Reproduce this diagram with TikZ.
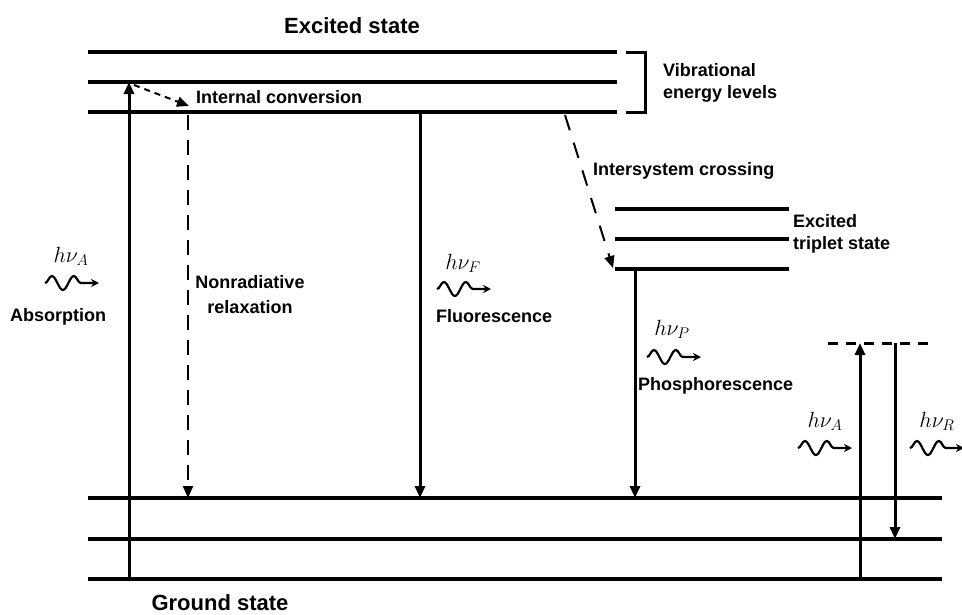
\RequirePackage{fix-cm}
\documentclass[tikz,border=0pt]{standalone}
\usepackage{fontspec}
\setmainfont{Liberation Sans}
\usepackage{tikz}
\usetikzlibrary{arrows.meta, calc, decorations.pathmorphing}

\begin{document}
\begin{tikzpicture}[
    x=1pt, y=-1pt,
    level/.style={line width=4pt},
    arr/.style={line width=3pt, -{Triangle[length=12pt, width=10pt]}},
    darr/.style={arr, dash pattern=on 15pt off 10pt},
    wave/.style={line width=2.2pt, -{Stealth[length=8pt, width=8pt]}, decorate,
                 decoration={snake, amplitude=7pt, segment length=22pt, post length=10pt}},
    title/.style={font=\fontsize{22}{26}\selectfont\bfseries, inner sep=0pt},
    lbl/.style={font=\fontsize{18}{22}\selectfont\bfseries, inner sep=0pt, align=left},
    hv/.style={font=\fontsize{22}{26}\selectfont, inner sep=0pt}
]
    \useasboundingbox (0,0) rectangle (962,614);

    \foreach \y/\n in {52/ex2, 82/ex1, 112/ex0}
        \draw[level] (88,\y) coordinate (\n) -- (617,\y);
    \foreach \y/\n in {209/tr2, 239/tr1, 269/tr0}
        \draw[level] (615,\y) coordinate (\n) -- (789,\y);
    \foreach \y/\n in {498/gr2, 539/gr1, 579/gr0}
        \draw[level] (88,\y) coordinate (\n) -- (942,\y);
    \draw[line width=3pt, dash pattern=on 10pt off 8pt] (828,343) coordinate (virt) -- (930,343);
    \draw[line width=3pt] (626,52) -| (645,112) -- (626,112);

    \node[title, anchor=base] (exc) at (352,33) {Excited state};
    \node[title, anchor=base] (gnd) at (220,610) {Ground state};
    \node[lbl, anchor=base west] (ic) at (196,103) {Internal conversion};
    \node[lbl, anchor=west] (vib) at (663,83) {Vibrational\\energy levels};
    \node[lbl, anchor=west] (trip) at (793,234) {Excited\\triplet state};
    \node[lbl, align=center] (nonrad) at (250,295) {Nonradiative\\[3pt]relaxation};
    \node[lbl, anchor=base west] (isc) at (593,175) {Intersystem crossing};
    \node[lbl, anchor=base] (absn) at (58,321) {Absorption};
    \node[lbl, anchor=base west] (fluo) at (436,322) {Fluorescence};
    \node[lbl, anchor=base west] (phos) at (638,390) {Phosphorescence};

    \node[hv, anchor=base] (hvA) at (71,262) {$h\nu_A$};
    \node[hv, anchor=base] (hvF) at (463,269) {$h\nu_F$};
    \node[hv, anchor=base] (hvP) at (672,335) {$h\nu_P$};
    \node[hv, anchor=base] (hvRa) at (825,427) {$h\nu_A$};
    \node[hv, anchor=base] (hvR) at (937,427) {$h\nu_R$};

    \foreach \x/\y/\n in {45/283/wA, 437/289/wF, 647/357/wP, 798/448/wRa, 910/448/wR}
        \draw[wave] (\x,\y) coordinate (\n) -- ++(54,0);

    \coordinate (colA) at (129,0);
    \coordinate (colN) at (188,0);
    \coordinate (colF) at (420,0);
    \coordinate (colP) at (635,0);
    \coordinate (colU) at (860,0);
    \coordinate (colD) at (895,0);
    \coordinate (icS) at (134,85);
    \coordinate (icE) at (189,106);
    \coordinate (iscS) at (565,115);
    \coordinate (iscE) at (613,268);

    \draw[arr] (colA |- gr0) -- (colA |- ex1);
    \draw[arr, line width=2pt, dash pattern=on 6pt off 5pt] (icS) -- (icE);
    \draw[darr, line width=2pt] ($(colN |- ex0)+(0,3)$) -- (colN |- gr2);
    \draw[arr] (colF |- ex0) -- (colF |- gr2);
    \draw[arr, line width=2pt, dash pattern=on 16pt off 13pt] (iscS) -- (iscE);
    \draw[arr] (colP |- tr0) -- (colP |- gr2);
    \draw[arr] (colU |- gr0) -- (colU |- virt);
    \draw[arr] (colD |- virt) -- (colD |- gr1);
\end{tikzpicture}
\end{document}
